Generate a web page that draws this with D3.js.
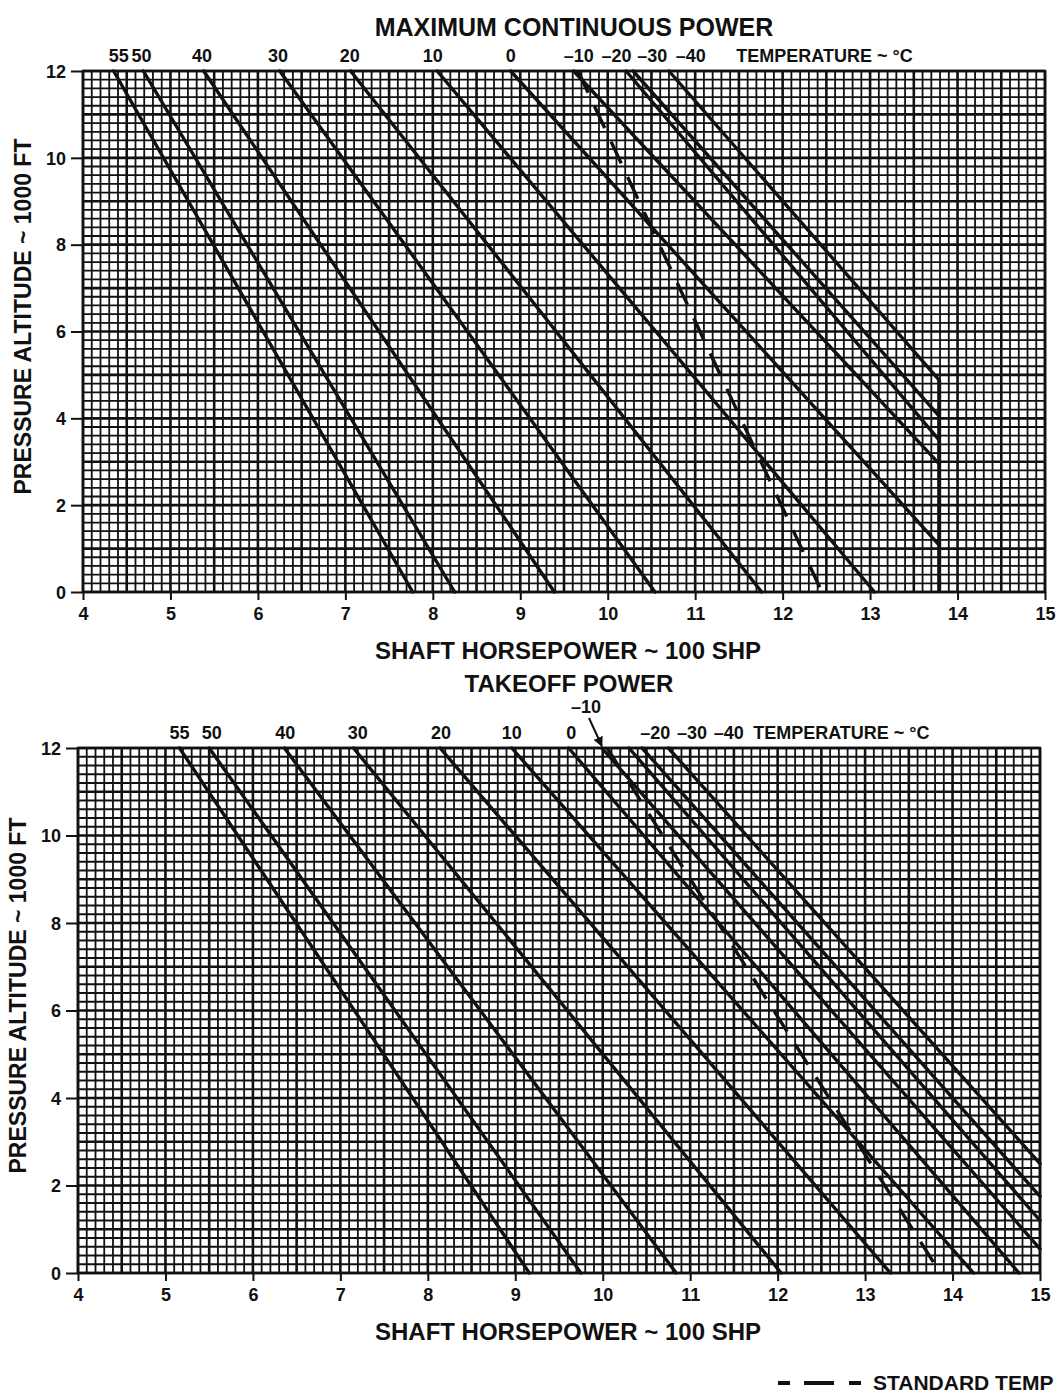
<!DOCTYPE html>
<html>
<head>
<meta charset="utf-8">
<script src="https://cdn.jsdelivr.net/npm/d3@7"></script>
<style>
  body { margin: 0; background: #fff; }
  text { font-family: "Liberation Sans", Arial, sans-serif; font-weight: bold; fill: #111; }
</style>
</head>
<body>
<svg id="chart" width="1057" height="1393"></svg>
<script>
// temperature lines, shp in hundreds, altitude in 1000 ft
var temps = [55, 50, 40, 30, 20, 10, 0, -10, -20, -30, -40];

// maximum continuous power
var mcpShpTop = [4.35, 4.69, 5.38, 6.25, 7.06, 8.05, 8.89, 9.61, 10.21, 10.29, 10.70];
var mcpShpEnd = [7.77, 8.25, 9.39, 10.54, 11.76, 13.05, 13.79, 13.79, 13.79, 13.79, 13.79];
var mcpAltEnd = [0, 0, 0, 0, 0, 0, 1.08, 2.95, 3.5, 4.05, 4.88];
var mcpLabelShp = [4.41, 4.67, 5.36, 6.23, 7.05, 8.0, 8.89, 9.67, 10.1, 10.51, 10.95];
var mcpStd = [[9.66, 12], [12.45, 0]];
var mcpLimit = [[13.79, 4.88], [13.79, 0]];

// takeoff power
var toShpTop = [5.16, 5.50, 6.36, 7.15, 8.14, 8.96, 9.61, 9.99, 10.30, 10.45, 10.75];
var toShpEnd = [9.16, 9.75, 10.84, 12.04, 13.29, 14.24, 14.76, 15, 15, 15, 15];
var toAltEnd = [0, 0, 0, 0, 0, 0, 0, 0.55, 1.2, 1.75, 2.5];
var toLabelShp = [5.16, 5.53, 6.37, 7.2, 8.15, 8.96, 9.64, null, 10.6, 11.02, 11.44];
var toStd = [[10.05, 12], [13.86, 0]];

var xTicks = [4, 5, 6, 7, 8, 9, 10, 11, 12, 13, 14, 15];
var yTicks = [0, 2, 4, 6, 8, 10, 12];

var svg = d3.select("#chart");

function panel(opt) {
  var g = svg.append("g");
  var x = d3.scaleLinear().domain([4, 15]).range([opt.left, opt.right]);
  var y = d3.scaleLinear().domain([0, 12]).range([opt.bottom, opt.top]);

  // grid: 0.1 shp by 200 ft, heavier every 5 cells
  d3.range(0, 111).forEach(function(i) {
    g.append("line")
      .attr("x1", x(4 + i / 10)).attr("x2", x(4 + i / 10))
      .attr("y1", y(0)).attr("y2", y(12))
      .attr("stroke", "#111")
      .attr("stroke-width", i % 5 == 0 ? 2.6 : 1.8);
  });
  d3.range(0, 61).forEach(function(i) {
    g.append("line")
      .attr("y1", y(i / 5)).attr("y2", y(i / 5))
      .attr("x1", x(4)).attr("x2", x(15))
      .attr("stroke", "#111")
      .attr("stroke-width", i % 5 == 0 ? 2.6 : 1.8);
  });
  g.append("rect")
    .attr("x", x(4)).attr("y", y(12))
    .attr("width", x(15) - x(4)).attr("height", y(0) - y(12))
    .attr("fill", "none").attr("stroke", "#111").attr("stroke-width", 2.5);

  // axes
  var xAxis = d3.axisBottom(x).tickValues(xTicks).tickSize(8).tickFormat(d3.format("d"));
  var ax = g.append("g").attr("transform", "translate(0," + y(0) + ")").call(xAxis);
  var yAxis = d3.axisLeft(y).tickValues(yTicks).tickSize(12).tickFormat(d3.format("d"));
  var ay = g.append("g").attr("transform", "translate(" + x(4) + ",0)").call(yAxis);
  [ax, ay].forEach(function(a) {
    a.select(".domain").remove();
    a.selectAll("line").attr("stroke", "#111").attr("stroke-width", 2);
    a.selectAll("text").attr("font-size", 18).attr("fill", "#111")
      .style("font-family", '"Liberation Sans", Arial, sans-serif').style("font-weight", "bold");
  });
  ax.selectAll("text").attr("dy", "0.95em");
  ay.selectAll("text").attr("dx", "-2").attr("dy", "0.35em");

  // temperature lines
  var line = d3.line().x(function(d) { return x(d[0]); }).y(function(d) { return y(d[1]); });
  temps.forEach(function(t, i) {
    g.append("path")
      .attr("d", line([[opt.shpTop[i], 12], [opt.shpEnd[i], opt.altEnd[i]]]))
      .attr("fill", "none").attr("stroke", "#111").attr("stroke-width", 3.4)
      .attr("stroke-linecap", "round");
    if (opt.labelShp[i] != null) {
      g.append("text")
        .attr("x", x(opt.labelShp[i])).attr("y", y(12) - 9)
        .attr("text-anchor", "middle").attr("font-size", 18)
        .text(t < 0 ? "\u2013" + (-t) : t);
    }
  });
  g.append("text")
    .attr("x", x(opt.tempTitleShp)).attr("y", y(12) - 9)
    .attr("font-size", 18).text("TEMPERATURE ~ \u00B0C");

  // standard temperature
  g.append("path")
    .attr("d", line(opt.std))
    .attr("fill", "none").attr("stroke", "#111").attr("stroke-width", 3.4)
    .attr("stroke-dasharray", "24,15");

  if (opt.limit) {
    g.append("path")
      .attr("d", line(opt.limit))
      .attr("fill", "none").attr("stroke", "#111").attr("stroke-width", 4);
  }

  // axis titles
  g.append("text")
    .attr("transform", "translate(" + (opt.left - 52) + "," + ((opt.top + opt.bottom) / 2 - 15) + ") rotate(-90)")
    .attr("text-anchor", "middle").attr("font-size", 23)
    .text("PRESSURE ALTITUDE ~ 1000 FT");
  g.append("text")
    .attr("x", 568).attr("y", opt.bottom + 67)
    .attr("text-anchor", "middle").attr("font-size", 24)
    .text("SHAFT HORSEPOWER ~ 100 SHP");

  return {x: x, y: y};
}

svg.append("text").attr("x", 574).attr("y", 36).attr("text-anchor", "middle")
  .attr("font-size", 25).text("MAXIMUM CONTINUOUS POWER");

panel({left: 83, right: 1045, top: 71, bottom: 592,
  shpTop: mcpShpTop, shpEnd: mcpShpEnd, altEnd: mcpAltEnd, labelShp: mcpLabelShp,
  tempTitleShp: 11.47, std: mcpStd, limit: mcpLimit});

svg.append("text").attr("x", 569).attr("y", 692).attr("text-anchor", "middle")
  .attr("font-size", 24).text("TAKEOFF POWER");

var p2 = panel({left: 78, right: 1040, top: 748, bottom: 1273,
  shpTop: toShpTop, shpEnd: toShpEnd, altEnd: toAltEnd, labelShp: toLabelShp,
  tempTitleShp: 11.72, std: toStd, limit: null});

// -10 label with arrow on takeoff chart
svg.append("defs").append("marker")
  .attr("id", "arrow").attr("viewBox", "0 -5 10 10")
  .attr("refX", 9).attr("refY", 0)
  .attr("markerWidth", 5).attr("markerHeight", 5)
  .attr("orient", "auto")
  .append("path").attr("d", "M0,-5L10,0L0,5").attr("fill", "#111");
svg.append("text").attr("x", 586).attr("y", 713).attr("text-anchor", "middle")
  .attr("font-size", 18).text("\u201310");
svg.append("line")
  .attr("x1", 589).attr("y1", 718)
  .attr("x2", p2.x(toShpTop[7])).attr("y2", p2.y(12) - 2)
  .attr("stroke", "#111").attr("stroke-width", 2)
  .attr("marker-end", "url(#arrow)");

// legend
var lg = svg.append("g").attr("transform", "translate(778,1383)");
[[0, 12], [26, 30], [71, 12]].forEach(function(d) {
  lg.append("line").attr("x1", d[0]).attr("x2", d[0] + d[1]).attr("y1", 0).attr("y2", 0)
    .attr("stroke", "#111").attr("stroke-width", 4);
});
lg.append("text").attr("x", 95).attr("y", 7).attr("font-size", 21).text("STANDARD TEMP");
</script>
</body>
</html>
